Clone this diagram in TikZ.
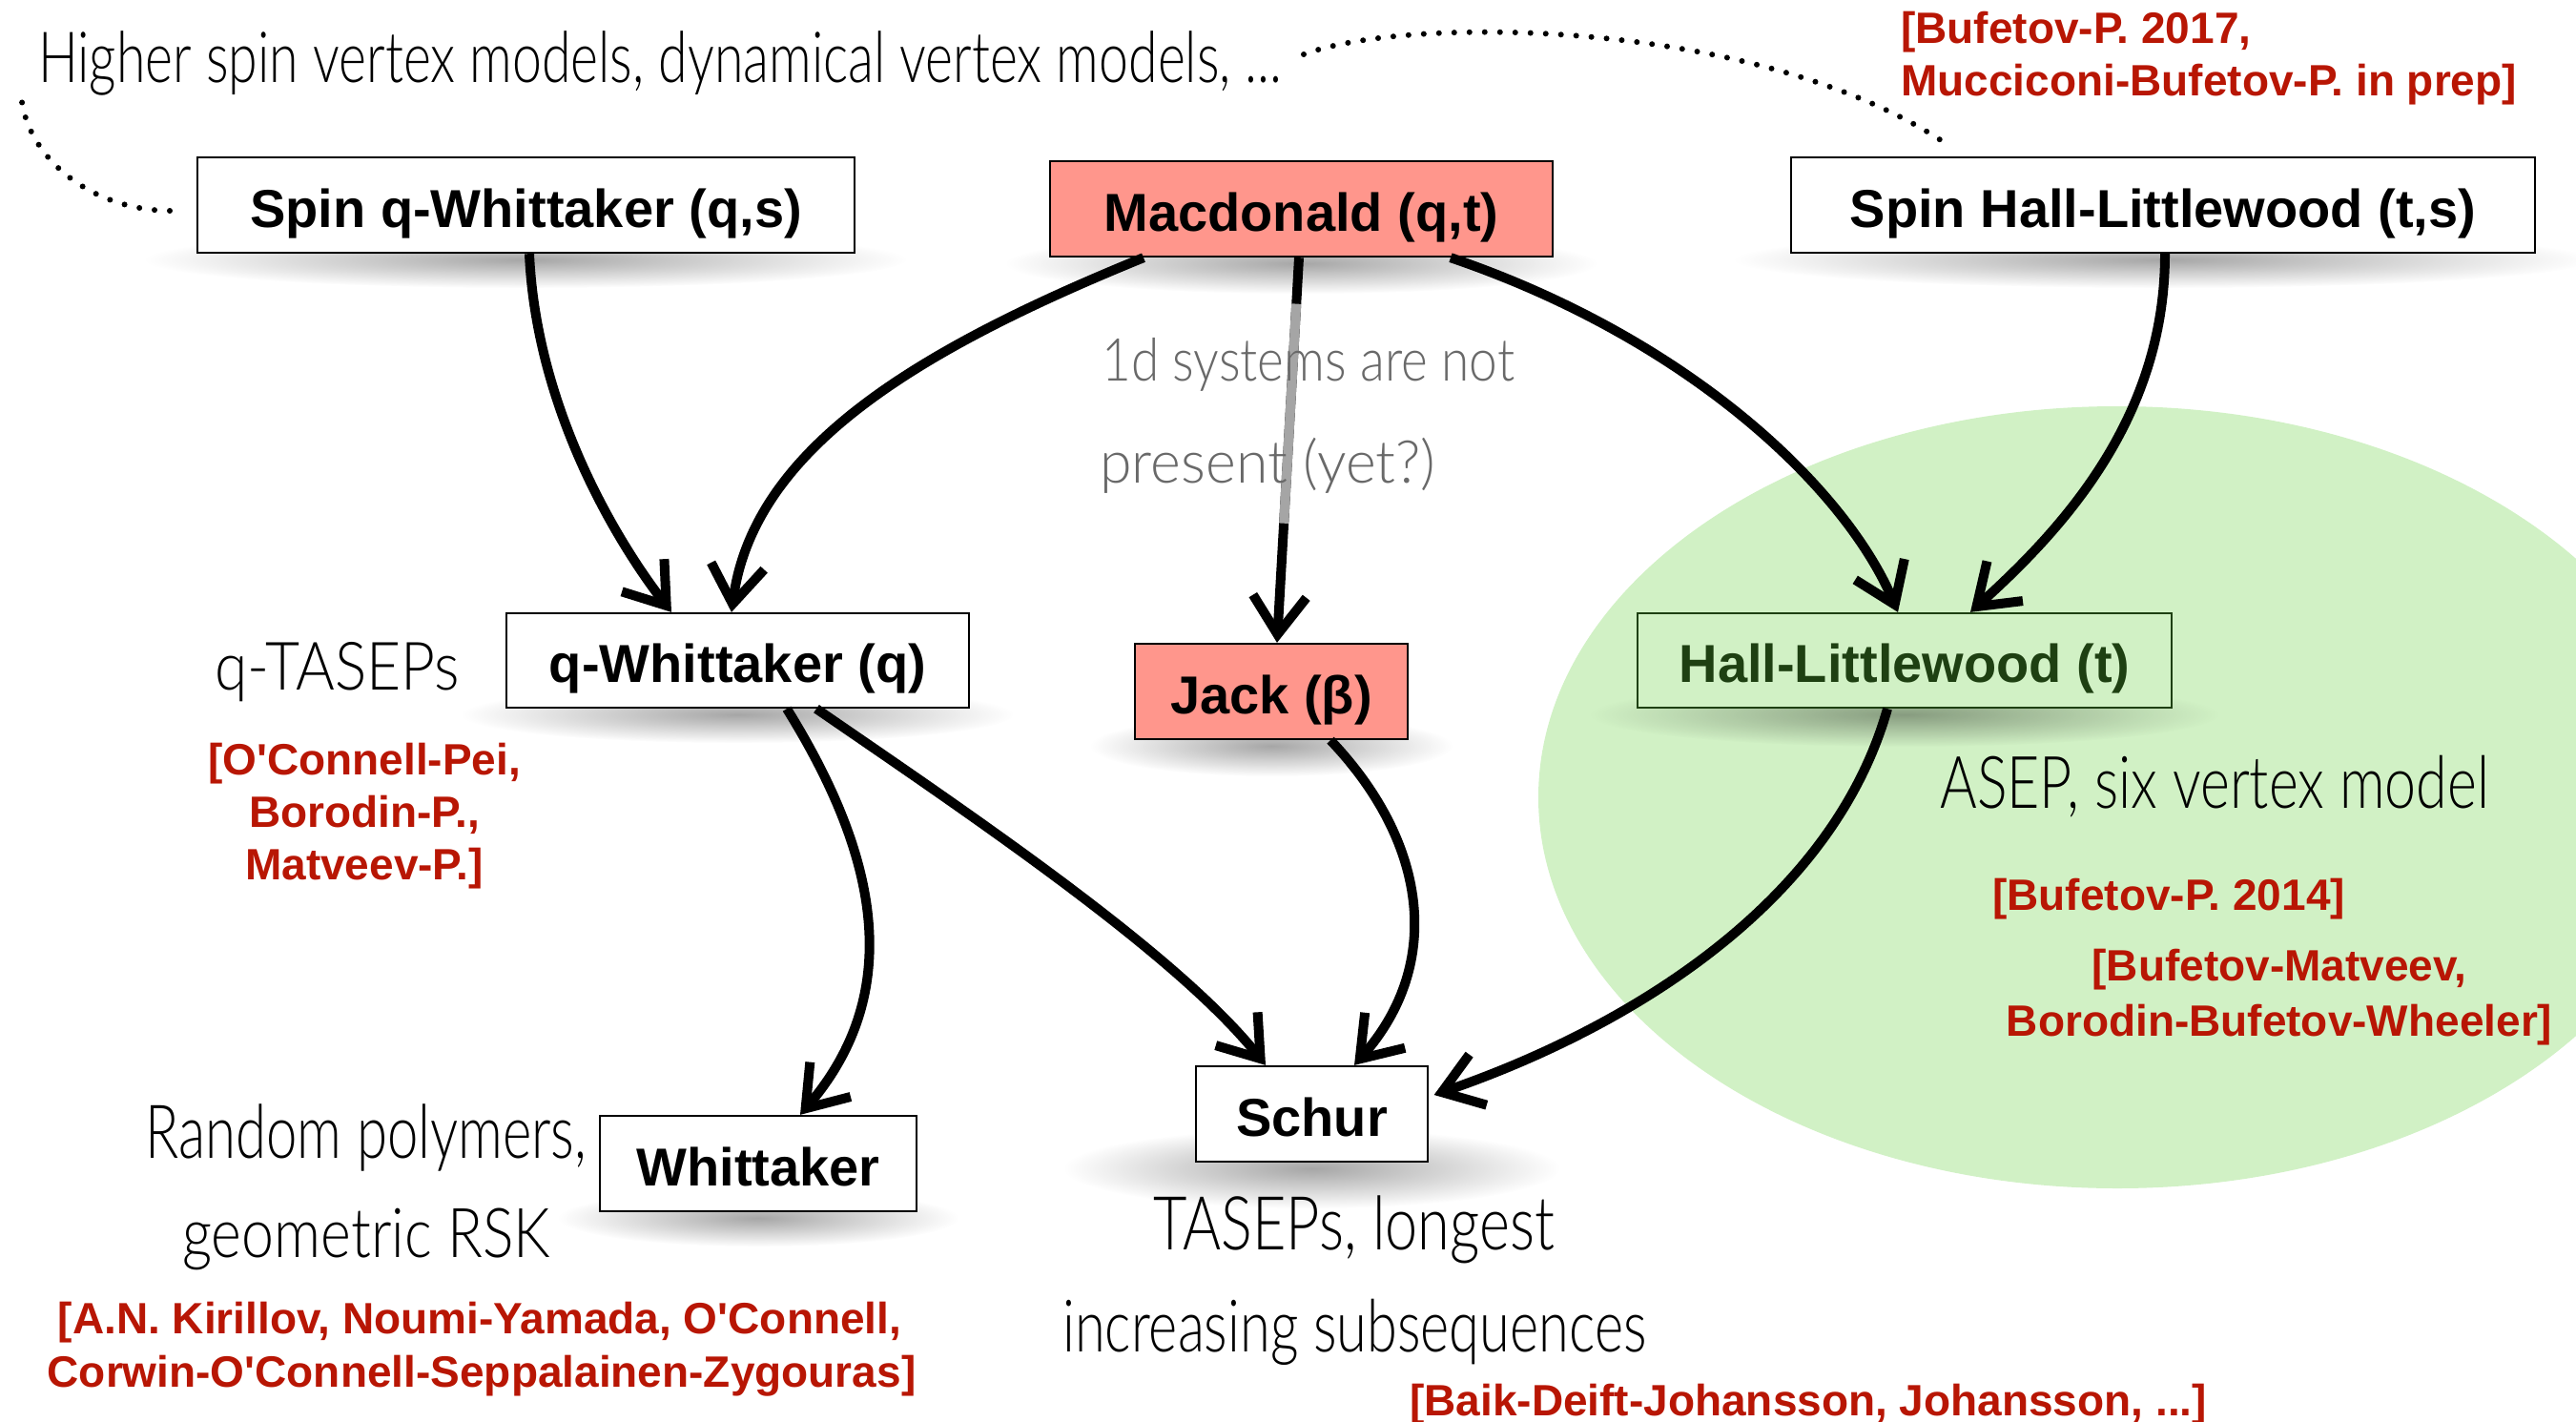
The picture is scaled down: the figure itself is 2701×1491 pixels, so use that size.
\documentclass[tikz,border=0pt]{standalone}
\usepackage{fontspec}
\usepackage{graphicx}
\setmainfont{Liberation Sans}
\IfFontExistsTF{Lato Light}{\newfontfamily\hand{Lato Light}}{\newfontfamily\hand{Lato}}
\usetikzlibrary{arrows.meta,calc,fadings}
\definecolor{salmon}{RGB}{255,150,140}
\definecolor{hlgreen}{RGB}{209,241,197}
\definecolor{hldark}{RGB}{30,64,18}
\definecolor{refred}{RGB}{184,22,4}
\definecolor{pencil}{RGB}{105,105,105}
\definecolor{segrey}{RGB}{165,165,165}
\tikzfading[name=shfade, inner color=transparent!0, outer color=transparent!100]
\pgfdeclarelayer{bg}
\pgfsetlayers{bg,main}
\newcommand{\hw}[2]{\resizebox{#1}{\height}{#2}}
\newcommand{\boxshadow}[3]{\fill[black, opacity=0.35, path fading=shfade] ($(#1.south)+(0,6)$) ellipse (#2 and #3);}
\tikzset{
  box/.style={draw=black, line width=2.3pt, fill=white, inner sep=0pt, text height=46pt, text depth=0pt, font=\bfseries\fontsize{56}{60}\selectfont},
  arr/.style={line width=10pt, -{Straight Barb[length=40pt, width=56pt]}},
  dotline/.style={line width=6pt, line cap=round, dash pattern=on 0pt off 16pt},
  hwn/.style={inner sep=0pt, anchor=base west},
  refn/.style={inner sep=0pt, text=refred, font=\bfseries\fontsize{46}{56}\selectfont}
}
\begin{document}
\begin{tikzpicture}[x=1pt, y=-1pt]
\useasboundingbox (0,0) rectangle (2701,1491);
\clip (0,0) rectangle (2701,1491);

% boxes
\node[box, minimum width=689pt, minimum height=100pt] (sqw) at (551.5,215) {Spin q-Whittaker (q,s)};
\node[box, fill=salmon, minimum width=527pt, minimum height=100pt] (mac) at (1364.5,219) {Macdonald (q,t)};
\node[box, minimum width=780pt, minimum height=100pt] (shl) at (2268,215) {Spin Hall-Littlewood (t,s)};
\node[box, minimum width=485pt, minimum height=99pt] (qw) at (773.5,692.5) {q-Whittaker (q)};
\node[box, fill=salmon, minimum width=286pt, minimum height=100pt] (jack) at (1333,725) {Jack (β)};
\node[box, fill=hlgreen, draw=hldark, text=hldark, minimum width=560pt, minimum height=99pt] (hl) at (1997,692.5) {Hall-Littlewood (t)};
\node[box, minimum width=332pt, minimum height=100pt] (wh) at (795,1220) {Whittaker};
\node[box, minimum width=243pt, minimum height=100pt] (schur) at (1375.5,1168) {Schur};

\begin{pgfonlayer}{bg}
\fill[hlgreen] (2220,836) ellipse (607pt and 410pt);
\boxshadow{sqw}{400pt}{30pt}
\boxshadow{mac}{310pt}{32pt}
\boxshadow{shl}{450pt}{30pt}
\boxshadow{qw}{290pt}{30pt}
\boxshadow{jack}{190pt}{32pt}
\boxshadow{hl}{330pt}{34pt}
\boxshadow{wh}{210pt}{30pt}
\boxshadow{schur}{260pt}{42pt}
\end{pgfonlayer}

% connectors
\draw[arr] ($(sqw.south)+(3.5,0)$) .. controls +(7,155) and +(-64,-83) .. ($(qw.north)+(-69.5,0)$);
\draw[arr] ($(mac.south)+(-165.5,0)$) .. controls +(-233,95) and +(23,-173) .. ($(qw.north)+(-6.5,0)$);
\coordinate (m3) at ($(mac.south)+(-2.5,0)$);
\coordinate (j3) at ($(jack.north)+(6,0)$);
\draw[arr] (m3) -- (j3);
\draw[line width=10pt, segrey] ($(m3)!0.12!(j3)$) -- ($(m3)!0.69!(j3)$);
\draw[arr] ($(mac.south)+(156.5,0)$) .. controls +(250,85) and +(-55,-130) .. ($(hl.north)+(-7,0)$);
\draw[arr] ($(shl.south)+(2,0)$) .. controls +(0,170) and +(100,-90) .. ($(hl.north)+(69,0)$);
\draw[arr] ($(qw.south)+(51.5,0)$) .. controls +(95,153) and +(111,-130) .. ($(wh.north)+(44,0)$);
\draw[arr] ($(qw.south)+(82.5,0)$) .. controls +(160,110) and +(-93,-117) .. ($(schur.north)+(-48.5,0)$);
\draw[arr] ($(jack.south)+(62,0)$) .. controls +(100,105) and +(95,-108) .. ($(schur.north)+(44.5,0)$);
\draw[arr] ($(hl.south)+(-18,0)$) .. controls +(-59,208) and +(198,-68) .. ($(schur.east)+(5.5,-20)$);

% dotted curves
\coordinate (d1a) at (178,221);
\coordinate (d1b) at (22,97);
\draw[dotline] (d1a) .. controls (90,220) and (25,160) .. (d1b);
\coordinate (d2a) at (1367,57);
\coordinate (d2b) at (2044,153);
\draw[dotline] (d2a) .. controls (1480,15) and (1850,20) .. (d2b);

% handwritten texts
\node[hwn, font=\hand\fontsize{74}{74}\selectfont] (t1) at (40,86) {\hw{1304pt}{Higher spin vertex models, dynamical vertex models, ...}};
\node[hwn, font=\hand\fontsize{70}{70}\selectfont] (t2) at (225,723) {\hw{257pt}{q-TASEPs}};
\node[hwn, font=\hand\fontsize{78}{78}\selectfont] (t3) at (152,1214) {\hw{463pt}{Random polymers,}};
\node[hwn, font=\hand\fontsize{72}{72}\selectfont] (t4) at (191,1318) {\hw{386pt}{geometric RSK}};
\node[hwn, font=\hand\fontsize{78}{78}\selectfont] (t5) at (1209,1310) {\hw{421pt}{TASEPs, longest}};
\node[hwn, font=\hand\fontsize{76}{76}\selectfont] (t6) at (1114,1417) {\hw{612pt}{increasing subsequences}};
\node[hwn, font=\hand\fontsize{76}{76}\selectfont] (t7) at (2034,847) {\hw{576pt}{ASEP, six vertex model}};
\node[hwn, text=pencil, font=\hand\fontsize{62}{62}\selectfont] (g1) at (1155,399) {\hw{433pt}{1d systems are not}};
\node[hwn, text=pencil, font=\hand\fontsize{62}{62}\selectfont] (g2) at (1153,506) {\hw{352pt}{present (yet?)}};

% references
\node[refn, anchor=base west] (r1a) at (1993,45) {[Bufetov-P. 2017,};
\node[refn, anchor=base west] (r1b) at (1993,100) {Mucciconi-Bufetov-P. in prep]};
\node[refn, anchor=base] (r2a) at (382,812) {[O\textquotesingle Connell-Pei,};
\node[refn, anchor=base] (r2b) at (382,867) {Borodin-P.,};
\node[refn, anchor=base] (r2c) at (382,922) {Matveev-P.]};
\node[refn, anchor=base west] (r3) at (2089,954) {[Bufetov-P. 2014]};
\node[refn, anchor=base] (r4a) at (2390,1028) {[Bufetov-Matveev,};
\node[refn, anchor=base] (r4b) at (2390,1086) {Borodin-Bufetov-Wheeler]};
\node[refn, anchor=base] (r5a) at (503,1398) {[A.N. Kirillov, Noumi-Yamada, O\textquotesingle Connell,};
\node[refn, anchor=base] (r5b) at (505,1454) {Corwin-O\textquotesingle Connell-Seppalainen-Zygouras]};
\node[refn, anchor=base west] (r6) at (1478,1484) {[Baik-Deift-Johansson, Johansson, ...]};
\end{tikzpicture}
\end{document}
